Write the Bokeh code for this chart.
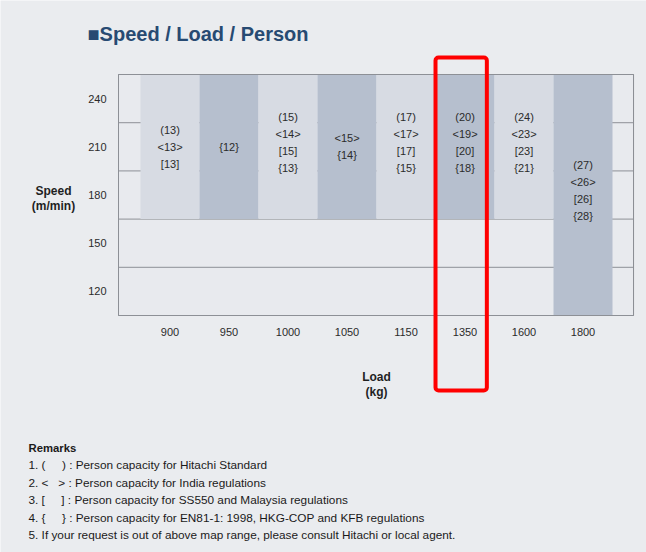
from bokeh.plotting import figure
from bokeh.models import Range1d, FixedTicker, Label, BoxAnnotation, ColumnDataSource
from bokeh.embed import file_html
from bokeh.resources import INLINE
from bokeh.core.properties import value

# ---------------- data ----------------
loads = ["900", "950", "1000", "1050", "1150", "1350", "1600", "1800"]
speed_min = [180, 180, 180, 180, 180, 180, 180, 120]
speed_max = [240, 240, 240, 240, 240, 240, 240, 240]
speed_ticks = [120, 150, 180, 210, 240]
speed_step = 30

hitachi = [13, None, 15, None, 17, 20, 24, 27]   # ( )
india = [13, None, 14, 15, 17, 19, 23, 26]       # < >
ss550 = [13, None, 15, None, 17, 20, 23, 26]     # [ ]
en81 = [None, 12, 13, 14, 15, 18, 21, 28]        # { }
brackets = [("(", ")"), ("<", ">"), ("[", "]"), ("{", "}")]

highlight_load = "1350"

title_text = "\u25a0Speed / Load / Person"
x_title = "Load\n(kg)"
y_title = "Speed\n(m/min)"
remarks_title = "Remarks"
NB = "\u00a0"
remarks = [
    "1. (" + NB * 5 + ") : Person capacity for Hitachi Standard",
    "2. <" + NB * 3 + "> : Person capacity for India regulations",
    "3. [" + NB * 5 + "] : Person capacity for SS550 and Malaysia regulations",
    "4. {" + NB * 5 + "} : Person capacity for EN81-1: 1998, HKG-COP and KFB regulations",
    "5. If your request is out of above map range, please consult Hitachi or local agent.",
]

# ---------------- styles ----------------
FONT = "Liberation Sans"
TXT = "#2b2b2b"
light_col = "#d7dbe3"
dark_col = "#b6bfce"
col_colors = [light_col if i % 2 == 0 else dark_col for i in range(len(loads))]
half = speed_step / 2
n = len(loads)
xs = [i + 0.5 for i in range(n)]                 # column centres (one unit per load)
box_left, box_right = -0.373, n + 0.356          # chart box margins around the columns
box_bottom, box_top = min(speed_ticks) - half, max(speed_ticks) + half

W, H = 646, 552
p = figure(
    width=W, height=H,
    x_range=Range1d(-2.373, n + 0.576),
    y_range=Range1d(-42.5, 301.06),
    output_backend="svg", toolbar_location=None,
    min_border=0, min_border_left=0, min_border_right=0,
    min_border_top=0, min_border_bottom=0,
)
p.background_fill_color = "#eaecef"
p.border_fill_color = "#eaecef"
p.outline_line_color = None
p.grid.grid_line_color = None

# chart box
p.quad(left=[box_left], right=[box_right], bottom=[box_bottom], top=[box_top],
       fill_color="#e8eaee", line_color="#8d9096", line_width=1)

# lines between speed bands
band_lines = [t + half for t in speed_ticks[:-1]]
p.segment(x0=[box_left] * len(band_lines), x1=[box_right] * len(band_lines),
          y0=band_lines, y1=band_lines, line_color="#8d9096", line_width=1)

# columns
src = ColumnDataSource(dict(
    x=xs,
    bottom=[s - half for s in speed_min],
    top=[s + half for s in speed_max],
    color=col_colors,
))
p.vbar(x="x", bottom="bottom", top="top", width=1.0, source=src,
       fill_color="color", line_color=None)

# redraw box outline on top
p.quad(left=[box_left], right=[box_right], bottom=[box_bottom], top=[box_top],
       fill_color=None, line_color="#8d9096", line_width=1)

# capacity text
tx, ty, toff, tstr = [], [], [], []
for i in range(n):
    vals = [hitachi[i], india[i], ss550[i], en81[i]]
    lines = [b[0] + str(v) + b[1] for v, b in zip(vals, brackets) if v is not None]
    m = len(lines)
    center = (speed_min[i] + speed_max[i]) / 2
    shift = -4.5 if m >= 4 else 0
    for j, s in enumerate(lines):
        tx.append(xs[i])
        ty.append(center)
        toff.append((j - (m - 1) / 2) * 16.8 + shift)
        tstr.append(s)
tsrc = ColumnDataSource(dict(x=tx, y=ty, off=toff, text=tstr))
p.text(x="x", y="y", text="text", y_offset="off", source=tsrc,
       text_font=value(FONT), text_font_size="11px", text_color=TXT,
       text_align="center", text_baseline="middle")

# axes (fixed to the chart box edges)
for ax in (p.xaxis[0], p.yaxis[0]):
    ax.axis_line_color = None
    ax.major_tick_line_color = None
    ax.minor_tick_line_color = None
    ax.major_label_text_font = FONT
    ax.major_label_text_font_size = "11px"
    ax.major_label_text_color = TXT

p.yaxis.ticker = FixedTicker(ticks=speed_ticks)
p.yaxis.fixed_location = box_left
p.yaxis.major_label_standoff = 6

p.xaxis.ticker = FixedTicker(ticks=xs)
p.xaxis.major_label_overrides = {x: ld for x, ld in zip(xs, loads)}
p.xaxis.fixed_location = box_bottom
p.xaxis.major_label_standoff = 6

# axis titles
p.add_layout(Label(x=53, y=198, x_units="canvas", y_units="canvas", text=y_title,
                   text_font=FONT, text_font_size="12px", text_font_style="bold",
                   text_color="#1f1f1f", text_align="center", text_baseline="middle",
                   text_line_height=1.05))
p.add_layout(Label(x=376, y=384, x_units="canvas", y_units="canvas", text=x_title,
                   text_font=FONT, text_font_size="12px", text_font_style="bold",
                   text_color="#1f1f1f", text_align="center", text_baseline="middle",
                   text_line_height=1.1))

# title
p.add_layout(Label(x=87, y=33, x_units="canvas", y_units="canvas", text=title_text,
                   text_font=FONT, text_font_size="20px", text_font_style="bold",
                   text_color="#274a72", text_baseline="middle"))

# remarks
p.add_layout(Label(x=28, y=447, x_units="canvas", y_units="canvas", text=remarks_title,
                   text_font=FONT, text_font_size="11.3px", text_font_style="bold",
                   text_color="#1a1a1a", text_baseline="middle"))
for k, r in enumerate(remarks):
    p.add_layout(Label(x=28, y=464.5 + k * 17.5, x_units="canvas", y_units="canvas", text=r,
                       text_font=FONT, text_font_size="11.8px",
                       text_color="#1a1a1a", text_baseline="middle"))

# highlight box around one load column
hi = loads.index(highlight_load)
p.add_layout(BoxAnnotation(left=hi, right=hi + 0.87, top=57, bottom=390,
                           top_units="canvas", bottom_units="canvas",
                           fill_alpha=0, line_color="#ff0000", line_alpha=1.0,
                           line_width=4, border_radius=3, level="overlay"))

open("out.html", "w").write(file_html(p, INLINE))
